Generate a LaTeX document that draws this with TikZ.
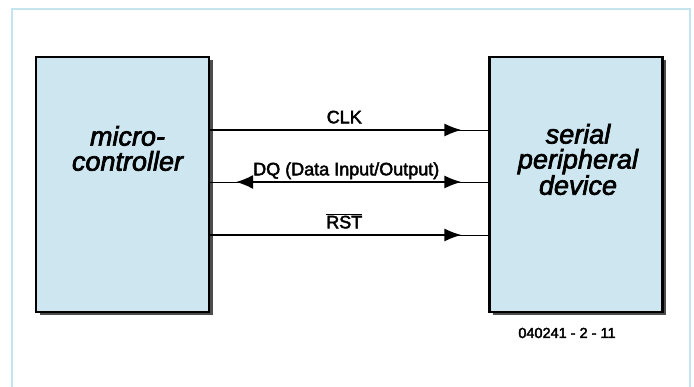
\documentclass[tikz,border=0pt]{standalone}
\usepackage{fontspec}
\setmainfont{Liberation Sans}
\newfontfamily\medsans{Liberation Sans}[RawFeature={embolden=2.5}]
\newfontfamily\medsansit{Liberation Sans Italic}[RawFeature={embolden=2.5}]
\usetikzlibrary{arrows.meta,shadows}
\definecolor{boxblue}{RGB}{205,230,239}
\definecolor{framecyan}{RGB}{196,228,238}

\begin{document}
\begin{tikzpicture}[x=1pt,y=1pt,
  block/.style={draw=black, line width=2.2pt, fill=boxblue, minimum width=173pt, minimum height=255pt, inner sep=0pt,
    drop shadow={shadow xshift=3.5pt, shadow yshift=-3.5pt, fill=black, opacity=0.7}},
  blocktext/.style={align=center, font=\fontsize{27}{25}\medsansit\selectfont},
  sig/.style={font=\fontsize{18}{20}\medsans\selectfont, inner sep=0pt, text depth=0pt, above=6pt},
  wire/.style={line width=1.4pt, preaction={draw, -, shorten >=0pt, shorten <=0pt}},
  fwd/.style={wire, -{Latex[length=17pt,width=13pt]}, shorten >=27pt},
  both/.style={wire, {Latex[length=17pt,width=14pt]}-{Latex[length=17pt,width=13pt]}, shorten >=27pt, shorten <=26pt}]
\clip (0,0) rectangle (694,386);
\draw[framecyan, line width=2pt] (12,-10) rectangle (690,377);
\node[block] (mc) at (122.5,201.5) {};
\node[block] (spd) at (576,201.5) {};
\node[blocktext] (mctext) at ([xshift=5pt,yshift=36pt]mc.center) {micro-\\controller};
\node[blocktext] (spdtext) at ([xshift=2pt,yshift=25pt]spd.center) {serial\\peripheral\\device};
\draw[fwd] ([yshift=54.5pt]mc.east) -- node[sig, xshift=-5pt] (clk) {CLK} ([yshift=54.5pt]spd.west);
\draw[both] ([yshift=2.5pt]mc.east) -- node[sig, xshift=-3pt] (dq) {DQ (Data Input/Output)} ([yshift=2.5pt]spd.west);
\draw[fwd] ([yshift=-50.5pt]mc.east) -- node[sig, xshift=-5pt] (rst) {$\overline{\mbox{RST}}$} ([yshift=-50.5pt]spd.west);
\node[font=\fontsize{14.5}{16}\medsans\selectfont] (fignum) at (567,53) {040241 - 2 - 11};
%\draw[red] (0,0) rectangle (694,386);
\end{tikzpicture}
\end{document}
